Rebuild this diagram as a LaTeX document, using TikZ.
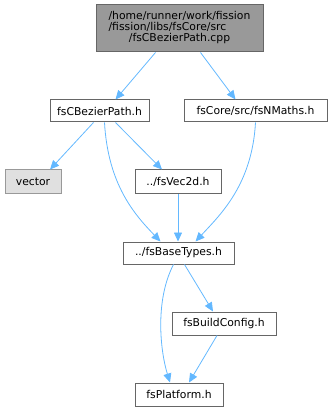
\documentclass[tikz,border=0pt]{standalone}
\usepackage{fontspec}
\setmainfont{DejaVu Sans}
\usetikzlibrary{arrows.meta}
\definecolor{edgec}{HTML}{63B8FF}
\definecolor{bordc}{HTML}{666666}
\tikzset{
  x=1pt, y=-1pt,
  filebox/.style={draw=bordc, fill=white, line width=1pt, inner sep=0pt, minimum height=22pt, font=\fontsize{10.8}{12.5}\selectfont},
  topbox/.style={filebox, fill=black!40},
  extbox/.style={filebox, fill=black!12, draw=black!40},
  dep/.style={draw=edgec, line width=0.8pt, -{Triangle[length=9pt,width=8pt]}, fill=none},
}
\begin{document}
\begin{tikzpicture}
\useasboundingbox (0,0) rectangle (333,411);
\node[topbox, minimum width=167pt, minimum height=47pt, align=center] (top) at (179.5,28.5)
  {\begin{tabular}{@{}l@{}}/home/runner/work/fission\\[-1.5pt]/fission/libs/fsCore/src\\[-1.5pt]\multicolumn{1}{@{}c@{}}{/fsCBezierPath.cpp}\end{tabular}};
\node[filebox, minimum width=99pt] (bez) at (99.5,111) {fsCBezierPath.h};
\node[filebox, minimum width=143pt] (nm) at (255.5,111) {fsCore/src/fsNMaths.h};
\node[extbox, minimum width=56pt, minimum height=24pt] (vec) at (33,182) {vector};
\node[filebox, minimum width=86pt, minimum height=24pt] (v2) at (178,182) {../fsVec2d.h};
\node[filebox, minimum width=111pt] (base) at (178.5,253) {../fsBaseTypes.h};
\node[filebox, minimum width=104pt, minimum height=23pt] (bc) at (224,323.5) {fsBuildConfig.h};
\node[filebox, minimum width=88pt, minimum height=23pt] (pl) at (179,394.5) {fsPlatform.h};

\draw[dep] ([xshift=-24pt]top.south) -- ([xshift=16pt]bez.north);
\draw[dep] ([xshift=21pt]top.south) -- ([xshift=-20pt]nm.north);
\draw[dep] ([xshift=-6pt]bez.south) -- ([xshift=17pt]vec.north);
\draw[dep] ([xshift=16pt]bez.south) -- ([xshift=-16pt]v2.north);
\draw[dep] ([xshift=5pt]bez.south) .. controls (108,185) and (135,215) .. ([xshift=-18pt]base.north);
\draw[dep] (nm.south) .. controls (252,185) and (220,215) .. ([xshift=17pt]base.north);
\draw[dep] (v2.south) -- ([xshift=-0.5pt]base.north);
\draw[dep] ([xshift=-5pt]base.south) .. controls (155,300) and (160,350) .. ([xshift=-9pt]pl.north);
\draw[dep] ([xshift=6pt]base.south) -- ([xshift=-11pt]bc.north);
\draw[dep] ([xshift=-7pt]bc.south) -- ([xshift=10pt]pl.north);
\end{tikzpicture}
\end{document}
